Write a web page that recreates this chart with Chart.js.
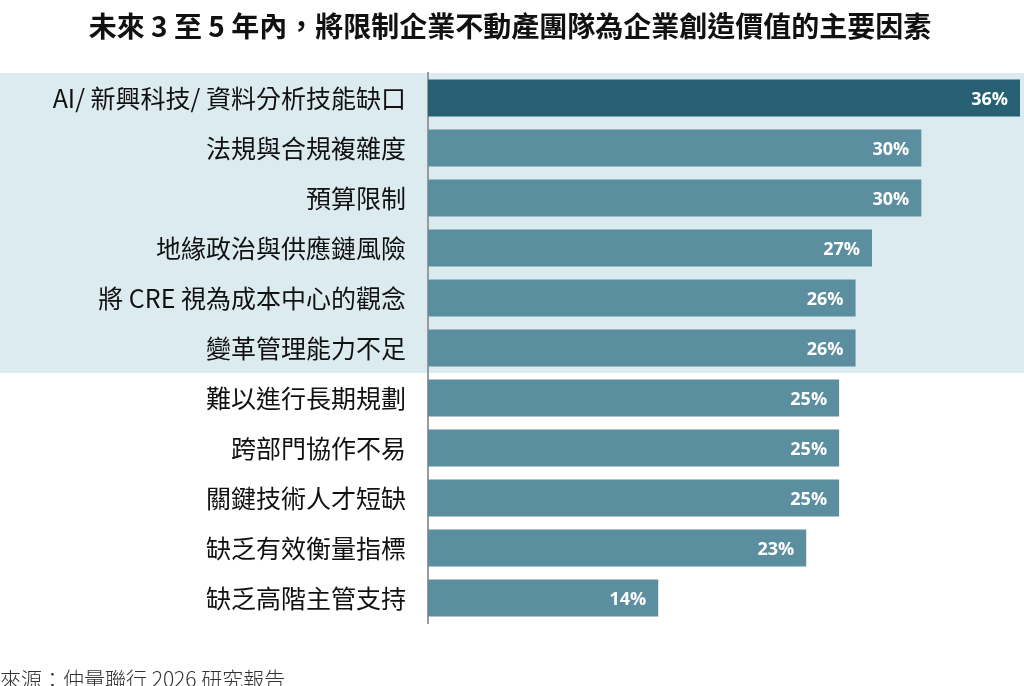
<!DOCTYPE html>
<html>
<head>
<meta charset="utf-8">
<script src="https://cdn.jsdelivr.net/npm/chart.js@4.4.1/dist/chart.umd.min.js"></script>
<style>
html,body{margin:0;padding:0;background:#ffffff;}
#wrap{width:1024px;height:686px;position:relative;}
</style>
</head>
<body>
<div id="wrap"><canvas id="c" width="1024" height="686"></canvas></div>
<script>
const titleText = '未來 3 至 5 年內，將限制企業不動產團隊為企業創造價值的主要因素';
const sourceText = '來源：仲量聯行 2026 研究報告';
const categories = [
  'AI/ 新興科技/ 資料分析技能缺口',
  '法規與合規複雜度',
  '預算限制',
  '地緣政治與供應鏈風險',
  '將 CRE 視為成本中心的觀念',
  '變革管理能力不足',
  '難以進行長期規劃',
  '跨部門協作不易',
  '關鍵技術人才短缺',
  '缺乏有效衡量指標',
  '缺乏高階主管支持'
];
const values = [36, 30, 30, 27, 26, 26, 25, 25, 25, 23, 14];
const highlightedCount = 6;

const darkColor = '#275f73';
const barColor = '#5b8fa0';
const bandColor = '#dcebf0';

const bandPlugin = {
  id: 'band',
  beforeDraw(chart) {
    const ctx = chart.ctx;
    const y = chart.scales.y;
    const top = chart.chartArea.top;
    const bottom = (y.getPixelForValue(highlightedCount - 1) + y.getPixelForValue(highlightedCount)) / 2;
    ctx.save();
    ctx.fillStyle = bandColor;
    ctx.fillRect(0, top, chart.width, bottom - top);
    ctx.restore();
  }
};

const labelPlugin = {
  id: 'vals',
  afterDatasetsDraw(chart) {
    const ctx = chart.ctx;
    const meta = chart.getDatasetMeta(0);
    ctx.save();
    ctx.fillStyle = '#ffffff';
    ctx.font = 'bold 18px "Open Sans", "Noto Sans", sans-serif';
    ctx.textAlign = 'right';
    ctx.textBaseline = 'middle';
    meta.data.forEach((bar, i) => {
      ctx.fillText(values[i] + '%', bar.x - 12, bar.y + 1.5);
    });
    ctx.restore();
  },
  afterDraw(chart) {
    const ctx = chart.ctx;
    ctx.save();
    ctx.fillStyle = '#333333';
    ctx.font = '300 21px "Noto Sans CJK TC", sans-serif';
    ctx.textAlign = 'left';
    ctx.textBaseline = 'middle';
    ctx.fillText(sourceText, 0, 679);
    ctx.restore();
  }
};

new Chart(document.getElementById('c'), {
  type: 'bar',
  data: {
    labels: categories,
    datasets: [{
      data: values,
      backgroundColor: values.map((v, i) => i === 0 ? darkColor : barColor),
      borderWidth: 0,
      barPercentage: 0.74,
      categoryPercentage: 1.0
    }]
  },
  options: {
    indexAxis: 'y',
    responsive: false,
    animation: false,
    devicePixelRatio: 1,
    layout: { padding: { left: 0, right: 4, top: 0, bottom: 63 } },
    plugins: {
      legend: { display: false },
      tooltip: { enabled: false },
      title: {
        display: true,
        text: titleText,
        color: '#111111',
        font: { family: '"Noto Sans CJK TC", sans-serif', size: 28, weight: 'bold', lineHeight: 1.2 },
        padding: { top: 10, bottom: 29.4 }
      }
    },
    scales: {
      x: {
        display: false,
        min: 0,
        max: 36
      },
      y: {
        grid: { display: false },
        border: { display: true, color: '#9a9a9a', width: 2 },
        ticks: {
          color: '#111111',
          padding: 14,
          font: { family: '"Noto Sans CJK TC", sans-serif', size: 25 }
        },
        afterFit(scale) { scale.width = 428; }
      }
    }
  },
  plugins: [bandPlugin, labelPlugin]
});
</script>
</body>
</html>
